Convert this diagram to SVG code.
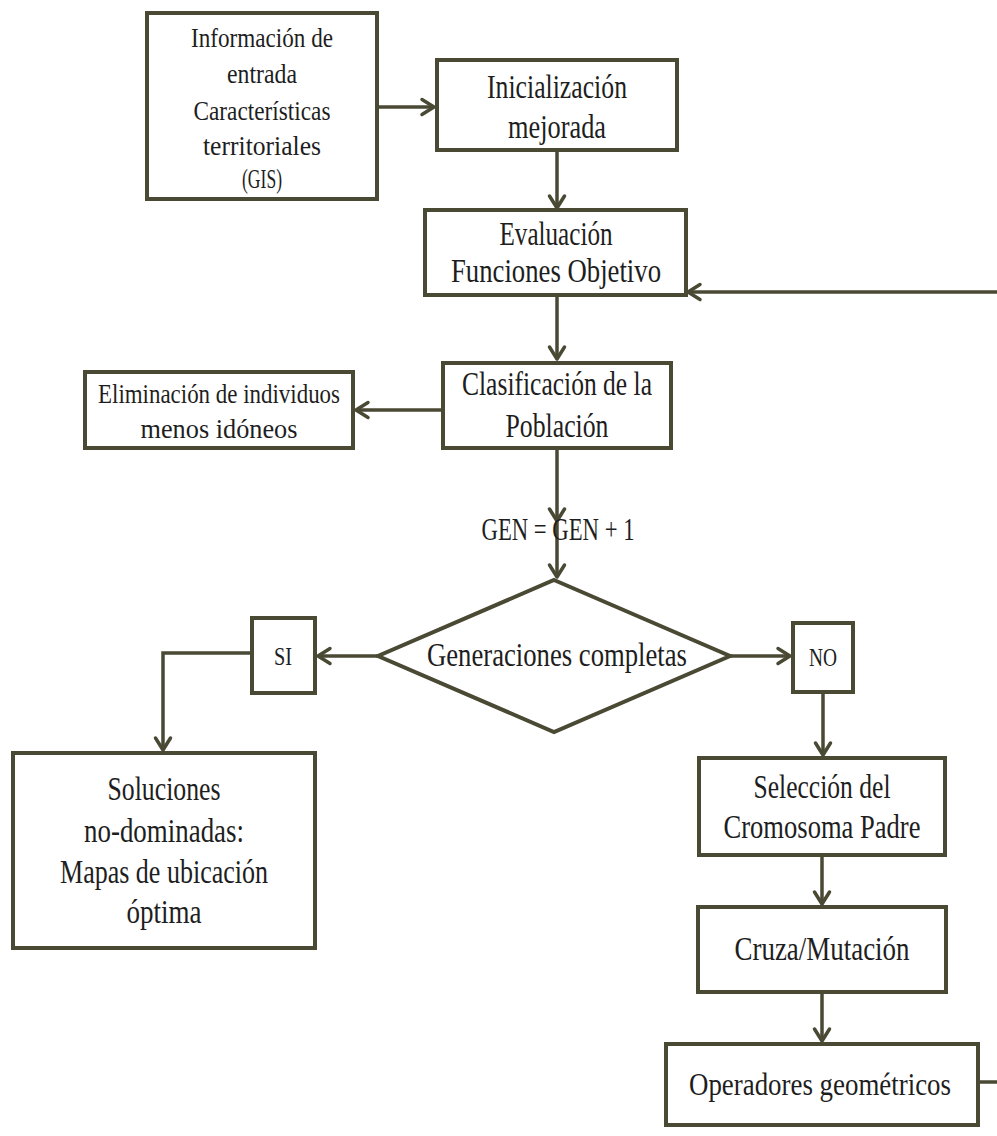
<svg xmlns="http://www.w3.org/2000/svg" width="997" height="1136" viewBox="0 0 997 1136">
<defs>
<style>
.box{fill:#fff;stroke:#4a4934;stroke-width:4}
.con{fill:none;stroke:#4a4934;stroke-width:3.5}
text{font-family:"Liberation Serif","Times New Roman",serif;fill:#1e1e1e;text-anchor:middle}
.t1{font-size:28px}
.t2{font-size:33px}
.t3{font-size:31px}
.t4{font-size:25px}
</style>
<marker id="ah" markerUnits="userSpaceOnUse" viewBox="0 0 20 20" markerWidth="20" markerHeight="20" refX="17" refY="10" orient="auto">
<path d="M5,2.5 L17,10 L5,17.5" fill="none" stroke="#4a4934" stroke-width="3.5" stroke-linecap="round" stroke-linejoin="round"/>
</marker>
</defs>
<rect width="997" height="1136" fill="#fff"/>
<g id="connectors">
<path class="con" d="M377,107 H434" marker-end="url(#ah)"/>
<path class="con" d="M557,150 V208" marker-end="url(#ah)"/>
<path class="con" d="M997,292 H688" marker-end="url(#ah)"/>
<path class="con" d="M557,295 V359" marker-end="url(#ah)"/>
<path class="con" d="M443,410 H356" marker-end="url(#ah)"/>
<path class="con" d="M557,448 V521" marker-end="url(#ah)"/>
<path class="con" d="M557,521 V577" marker-end="url(#ah)"/>
<path class="con" d="M378,656 H318" marker-end="url(#ah)"/>
<path class="con" d="M252,653 H163 V750" marker-end="url(#ah)"/>
<path class="con" d="M730,656 H790" marker-end="url(#ah)"/>
<path class="con" d="M823,692 V755" marker-end="url(#ah)"/>
<path class="con" d="M822,855 V904" marker-end="url(#ah)"/>
<path class="con" d="M822,992 V1041" marker-end="url(#ah)"/>
<path class="con" d="M978,1082 H997"/>
</g>
<g id="n-entrada">
<rect class="box" x="147" y="13" width="230" height="186"/>
<text class="t1" x="262" y="47" textLength="142" lengthAdjust="spacingAndGlyphs">Información de</text>
<text class="t1" x="262" y="83" textLength="70" lengthAdjust="spacingAndGlyphs">entrada</text>
<text class="t1" x="262" y="120" textLength="137" lengthAdjust="spacingAndGlyphs">Características</text>
<text class="t1" x="262" y="155" textLength="118" lengthAdjust="spacingAndGlyphs">territoriales</text>
<text class="t1" x="262" y="188" textLength="40" lengthAdjust="spacingAndGlyphs">(GIS)</text>
</g>
<g id="n-inicializacion">
<rect class="box" x="437" y="60" width="240" height="90"/>
<text class="t2" x="557" y="98" textLength="140" lengthAdjust="spacingAndGlyphs">Inicialización</text>
<text class="t2" x="557" y="138" textLength="98" lengthAdjust="spacingAndGlyphs">mejorada</text>
</g>
<g id="n-evaluacion">
<rect class="box" x="425" y="210" width="261" height="85"/>
<text class="t2" x="556" y="245" textLength="113" lengthAdjust="spacingAndGlyphs">Evaluación</text>
<text class="t2" x="556" y="282" textLength="210" lengthAdjust="spacingAndGlyphs">Funciones Objetivo</text>
</g>
<g id="n-clasificacion">
<rect class="box" x="443" y="363" width="228" height="85"/>
<text class="t2" x="557" y="395" textLength="190" lengthAdjust="spacingAndGlyphs">Clasificación de la</text>
<text class="t2" x="557" y="437" textLength="103" lengthAdjust="spacingAndGlyphs">Población</text>
</g>
<g id="n-eliminacion">
<rect class="box" x="85" y="372" width="268" height="76"/>
<text class="t1" x="219" y="403" textLength="242" lengthAdjust="spacingAndGlyphs">Eliminación de individuos</text>
<text class="t1" x="219" y="438" textLength="157" lengthAdjust="spacingAndGlyphs">menos idóneos</text>
</g>
<g id="n-gen">
<text class="t3" x="558" y="540" textLength="153" lengthAdjust="spacingAndGlyphs">GEN = GEN + 1</text>
</g>
<g id="n-decision">
<polygon class="box" points="554,580 730,656 554,732 378,656"/>
<text class="t2" x="557" y="666" textLength="260" lengthAdjust="spacingAndGlyphs">Generaciones completas</text>
</g>
<g id="n-si">
<rect class="box" x="252" y="618" width="63" height="75"/>
<text class="t4" x="283" y="665" textLength="18" lengthAdjust="spacingAndGlyphs">SI</text>
</g>
<g id="n-no">
<rect class="box" x="793" y="623" width="60" height="69"/>
<text class="t4" x="823" y="666" textLength="28" lengthAdjust="spacingAndGlyphs">NO</text>
</g>
<g id="n-soluciones">
<rect class="box" x="13" y="753" width="302" height="195"/>
<text class="t2" x="164" y="800" textLength="113" lengthAdjust="spacingAndGlyphs">Soluciones</text>
<text class="t2" x="164" y="842" textLength="160" lengthAdjust="spacingAndGlyphs">no-dominadas:</text>
<text class="t2" x="164" y="883" textLength="208" lengthAdjust="spacingAndGlyphs">Mapas de ubicación</text>
<text class="t2" x="164" y="923" textLength="75" lengthAdjust="spacingAndGlyphs">óptima</text>
</g>
<g id="n-seleccion">
<rect class="box" x="699" y="758" width="246" height="97"/>
<text class="t2" x="822" y="798" textLength="137" lengthAdjust="spacingAndGlyphs">Selección del</text>
<text class="t2" x="822" y="838" textLength="197" lengthAdjust="spacingAndGlyphs">Cromosoma Padre</text>
</g>
<g id="n-cruza">
<rect class="box" x="698" y="907" width="248" height="85"/>
<text class="t2" x="822" y="960" textLength="175" lengthAdjust="spacingAndGlyphs">Cruza/Mutación</text>
</g>
<g id="n-operadores">
<rect class="box" x="666" y="1044" width="312" height="81"/>
<text class="t3" x="820" y="1095" textLength="262" lengthAdjust="spacingAndGlyphs">Operadores geométricos</text>
</g>
</svg>
